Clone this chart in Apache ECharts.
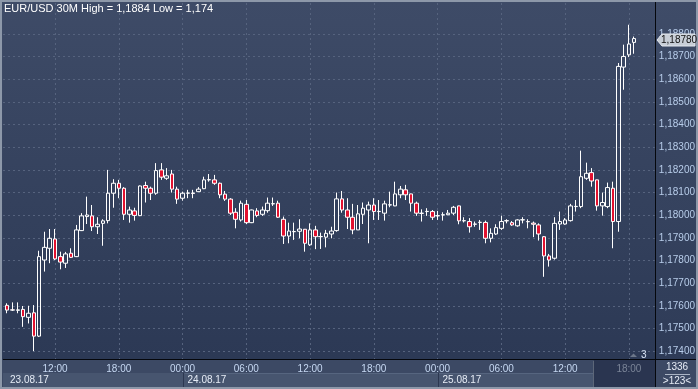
<!DOCTYPE html>
<html><head><meta charset="utf-8">
<script src="https://cdn.jsdelivr.net/npm/echarts@6/dist/echarts.min.js"></script>
<style>html,body{margin:0;padding:0;background:#34415d;}#c{width:698px;height:389px;}</style>
</head><body><div id="c"></div>
<script>
// ---- data (30-minute candles, EUR/USD, 23.08.17 07:30 .. 25.08.17 18:30) ----
const opens = [1.17602,1.17582,1.17580,1.17584,1.17549,1.17569,1.17466,1.17802,1.17854,1.17895,
1.17817,1.17788,1.17832,1.17817,1.17932,1.17994,1.17997,1.17949,1.17964,1.17976,
1.18097,1.18141,1.18119,1.18004,1.18019,1.17998,1.18131,1.18119,1.18097,1.18200,
1.18163,1.18182,1.18115,1.18075,1.18097,1.18098,1.18104,1.18117,1.18156,1.18156,
1.18141,1.18093,1.18071,1.18013,1.17979,1.18048,1.17967,1.18019,1.18004,1.18020,
1.18050,1.18053,1.17982,1.17908,1.17927,1.17929,1.17938,1.17869,1.17935,1.17905,
1.17903,1.17917,1.17932,1.18072,1.18023,1.17991,1.17935,1.18004,1.18023,1.18045,
1.18016,1.18009,1.18045,1.18041,1.18090,1.18112,1.18094,1.18053,1.18009,1.18016,
1.18016,1.17997,1.18001,1.18002,1.18009,1.18041,1.17975,1.17972,1.17960,1.17968,
1.17968,1.17898,1.17917,1.17942,1.17975,1.17967,1.17953,1.17979,1.17972,1.17965,
1.17957,1.17905,1.17820,1.17810,1.17961,1.17961,1.17976,1.18038,1.18038,1.18163,
1.18188,1.18156,1.18041,1.18038,1.18119,1.17972,1.18654,1.18708,1.18763];
const closes = [1.17581,1.17581,1.17582,1.17552,1.17567,1.17466,1.17817,1.17858,1.17898,1.17807,
1.17793,1.17829,1.17814,1.17935,1.17997,1.18001,1.17949,1.17960,1.17975,1.18097,
1.18141,1.18119,1.18004,1.18023,1.17999,1.18129,1.18119,1.18097,1.18197,1.18168,
1.18174,1.18115,1.18071,1.18097,1.18098,1.18096,1.18115,1.18156,1.18157,1.18141,
1.18090,1.18071,1.18009,1.17982,1.18053,1.17967,1.18023,1.17999,1.18023,1.18053,
1.18051,1.17991,1.17908,1.17930,1.17928,1.17939,1.17876,1.17935,1.17905,1.17906,
1.17920,1.17930,1.18072,1.18023,1.17991,1.17935,1.18006,1.18031,1.18045,1.18016,
1.18017,1.18050,1.18046,1.18094,1.18115,1.18090,1.18053,1.18009,1.18008,1.18017,
1.17991,1.17998,1.18002,1.18009,1.18035,1.17975,1.17976,1.17949,1.17961,1.17969,
1.17898,1.17920,1.17945,1.17972,1.17976,1.17957,1.17979,1.17980,1.17971,1.17960,
1.17917,1.17820,1.17802,1.17964,1.17972,1.17979,1.18041,1.18039,1.18170,1.18185,
1.18151,1.18041,1.18056,1.18122,1.17972,1.18657,1.18701,1.18756,1.18780];
const lows = [1.17567,1.17577,1.17567,1.17507,1.17522,1.17400,1.17462,1.17751,1.17788,1.17802,
1.17761,1.17767,1.17811,1.17815,1.17930,1.17961,1.17930,1.17917,1.17865,1.17964,
1.18033,1.18075,1.17979,1.17967,1.17976,1.17996,1.18056,1.18067,1.18090,1.18156,
1.18156,1.18100,1.18050,1.18064,1.18075,1.18075,1.18103,1.18115,1.18148,1.18134,
1.18075,1.18063,1.18001,1.17942,1.17972,1.17961,1.17965,1.17991,1.17997,1.18011,
1.18041,1.17988,1.17873,1.17876,1.17891,1.17898,1.17839,1.17864,1.17850,1.17851,
1.17858,1.17898,1.17927,1.18011,1.17939,1.17916,1.17935,1.17961,1.17876,1.17979,
1.17979,1.17976,1.18035,1.18040,1.18075,1.18067,1.18016,1.17997,1.17972,1.17997,
1.17979,1.17979,1.17976,1.18000,1.18001,1.17960,1.17968,1.17923,1.17949,1.17935,
1.17876,1.17880,1.17913,1.17935,1.17964,1.17953,1.17949,1.17964,1.17942,1.17903,
1.17888,1.17728,1.17773,1.17804,1.17935,1.17958,1.17972,1.18016,1.18031,1.18156,
1.18126,1.18020,1.17998,1.18031,1.17854,1.17927,1.18554,1.18698,1.18713];
const highs = [1.17611,1.17615,1.17615,1.17599,1.17600,1.17603,1.17843,1.17927,1.17939,1.17939,
1.17839,1.17838,1.17854,1.17957,1.18009,1.18082,1.18045,1.17991,1.17982,1.18200,
1.18159,1.18156,1.18124,1.18038,1.18033,1.18131,1.18148,1.18126,1.18230,1.18230,
1.18208,1.18200,1.18126,1.18104,1.18112,1.18112,1.18124,1.18170,1.18182,1.18178,
1.18144,1.18107,1.18075,1.18031,1.18064,1.18067,1.18025,1.18031,1.18038,1.18078,
1.18078,1.18064,1.17994,1.17967,1.17967,1.17982,1.17939,1.17964,1.17953,1.17923,
1.17935,1.17949,1.18100,1.18107,1.18075,1.18050,1.18045,1.18056,1.18060,1.18075,
1.18067,1.18064,1.18104,1.18148,1.18129,1.18134,1.18095,1.18060,1.18026,1.18031,
1.18023,1.18019,1.18013,1.18023,1.18041,1.18042,1.17991,1.17987,1.17972,1.17979,
1.17976,1.17942,1.17960,1.17998,1.17982,1.17974,1.17982,1.17991,1.17982,1.17972,
1.17964,1.17908,1.17829,1.17991,1.18016,1.17987,1.18050,1.18067,1.18285,1.18232,
1.18208,1.18157,1.18100,1.18144,1.18148,1.18672,1.18753,1.18841,1.18789];

// axis text
const tickIdx    = [9, 21, 33, 45, 57, 69, 81, 93, 105, 117];
const tickLabels = ['12:00','18:00','00:00','06:00','12:00','18:00','00:00','06:00','12:00','18:00'];
const dateLabels = ['23.08.17','24.08.17','25.08.17'];
const dateStartIdx = [-15, 33, 81];
const priceTicks = [1.174,1.175,1.176,1.177,1.178,1.179,1.180,1.181,1.182,1.183,1.184,1.185,1.186,1.187,1.188];
const lastPrice = 1.18780;
const titleText = 'EUR/USD 30M High = 1,1884 Low = 1,174';

const chart = echarts.init(document.getElementById('c'), null, {renderer: 'canvas'});
const data = opens.map((o, i) => [i, o, closes[i], lows[i], highs[i]]);
const FONT = 'Liberation Sans';

const option = {
  animation: false,
  backgroundColor: {type: 'linear', x: 0, y: 0, x2: 0, y2: 1,
    colorStops: [{offset: 0, color: '#3f4c68'}, {offset: 1, color: '#2d3a56'}]},
  grid: {left: 3, right: 43, top: 3, bottom: 30, show: true, borderWidth: 0,
    backgroundColor: {type: 'linear', x: 0, y: 0, x2: 0, y2: 1,
      colorStops: [{offset: 0, color: '#3e4b67'}, {offset: 1, color: '#2c3955'}]}},
  xAxis: {
    type: 'value', min: -0.79, max: 121.88,
    axisLine: {show: false},
    axisTick: {show: false, customValues: tickIdx},
    axisLabel: {customValues: tickIdx, margin: 5, fontSize: 10, fontFamily: FONT,
      formatter: v => tickLabels[tickIdx.indexOf(Math.round(v))] || '',
      color: v => (Math.round(+v) === 117 ? '#7a8497' : '#c6d8f2')},
    splitLine: {show: true, lineStyle: {color: '#56637e', width: 1, type: [2, 3]}}
  },
  yAxis: {
    type: 'value', position: 'right', min: 1.17365, max: 1.18937, scale: true,
    axisLine: {show: false},
    axisTick: {show: false, customValues: priceTicks},
    axisLabel: {customValues: priceTicks, margin: 4, fontSize: 10, fontFamily: FONT, color: '#b8cdea',
      formatter: v => (+v).toFixed(5).replace('.', ',')},
    splitLine: {show: true, lineStyle: {color: '#56637e', width: 1, type: [2, 3]}}
  },
  series: [{
    type: 'candlestick', data: data, encode: {x: 0, y: [1, 2, 3, 4]},
    barWidth: 4,
    itemStyle: {color: 'rgba(0,0,0,0)', color0: '#e2112f', borderColor: '#ffffff', borderColor0: '#ffffff', borderWidth: 1}
  }]
};
chart.setOption(option);

const px = (i, p) => chart.convertToPixel({gridIndex: 0}, [i, p]);
const g = [];
// bottom axis band
g.push({type: 'rect', z: -1, shape: {x: 0, y: 360, width: 698, height: 29}, style: {fill: '#3c4964'}});
g.push({type: 'rect', z: -1, shape: {x: 3, y: 373, width: 652, height: 14}, style: {fill: '#47556f'}});
const sepX = dateStartIdx.map(i => Math.round(px(i, 1.18)[0]) + 0.5);
for (let k = 0; k < dateLabels.length; k++) {
  const sx = sepX[k];
  if (sx > 3) {
    g.push({type: 'line', z: -1, shape: {x1: sx, y1: 373, x2: sx, y2: 387}, style: {stroke: '#2c3750', lineWidth: 1}});
    g.push({type: 'line', z: -1, shape: {x1: sx + 1, y1: 373.5, x2: 655, y2: 373.5}, style: {stroke: '#56657f', lineWidth: 1}});
  }
  g.push({type: 'text', z: 10, x: Math.max(sx + 4, 10), y: 380,
    style: {text: dateLabels[k], fill: '#e6ecf6', font: '10px "' + FONT + '"', textVerticalAlign: 'middle'}});
}
// dimmed current-session block
g.push({type: 'rect', z: -1, shape: {x: 594, y: 360, width: 61, height: 29}, style: {fill: '#2a3550'}});
g.push({type: 'line', z: -1, shape: {x1: 593.5, y1: 361, x2: 593.5, y2: 389}, style: {stroke: '#5d6779', lineWidth: 1}});
// black frame lines
g.push({type: 'line', z: 5, shape: {x1: 655.5, y1: 0, x2: 655.5, y2: 389}, style: {stroke: '#05070c', lineWidth: 1}});
g.push({type: 'line', z: 5, shape: {x1: 3, y1: 359.5, x2: 698, y2: 359.5}, style: {stroke: '#05070c', lineWidth: 1}});
// outer border
g.push({type: 'rect', z: 6, shape: {x: 1, y: 1, width: 696, height: 387}, style: {fill: null, stroke: '#8d98a9', lineWidth: 2}});
// right bottom box
g.push({type: 'text', z: 10, x: 677, y: 367, style: {text: '1336', fill: '#e6ecf6', font: '10px "' + FONT + '"', textAlign: 'center', textVerticalAlign: 'middle'}});
g.push({type: 'line', z: 10, shape: {x1: 665, y1: 374.5, x2: 690, y2: 374.5}, style: {stroke: '#aab4c4', lineWidth: 1}});
g.push({type: 'text', z: 10, x: 677, y: 381, style: {text: '>123<', fill: '#e6ecf6', font: '10px "' + FONT + '"', textAlign: 'center', textVerticalAlign: 'middle'}});
// title
g.push({type: 'text', z: 10, x: 4, y: 9, style: {text: titleText, fill: '#ffffff', font: '11px "' + FONT + '"', textVerticalAlign: 'middle'}});
// "3" marker
g.push({type: 'polygon', z: 10, shape: {points: [[630, 357], [633.5, 353.5], [637, 357]]}, style: {fill: '#6c778a'}});
g.push({type: 'text', z: 10, x: 641, y: 355, style: {text: '3', fill: '#d9e4f5', font: '10px "' + FONT + '"', textVerticalAlign: 'middle'}});
// last price tag
const ty = Math.round(px(118, lastPrice)[1]) + 1;
g.push({type: 'polygon', z: 10, shape: {points: [[657, ty], [662, ty - 6], [695, ty - 6], [695, ty + 6], [662, ty + 6]]},
  style: {fill: '#c8ced7', stroke: '#e4e8ee', lineWidth: 1}});
g.push({type: 'text', z: 11, x: 661, y: ty, style: {text: lastPrice.toFixed(5).replace('.', ','), fill: '#111111', font: '10px "' + FONT + '"', textVerticalAlign: 'middle'}});
chart.setOption({graphic: g});
</script></body></html>
